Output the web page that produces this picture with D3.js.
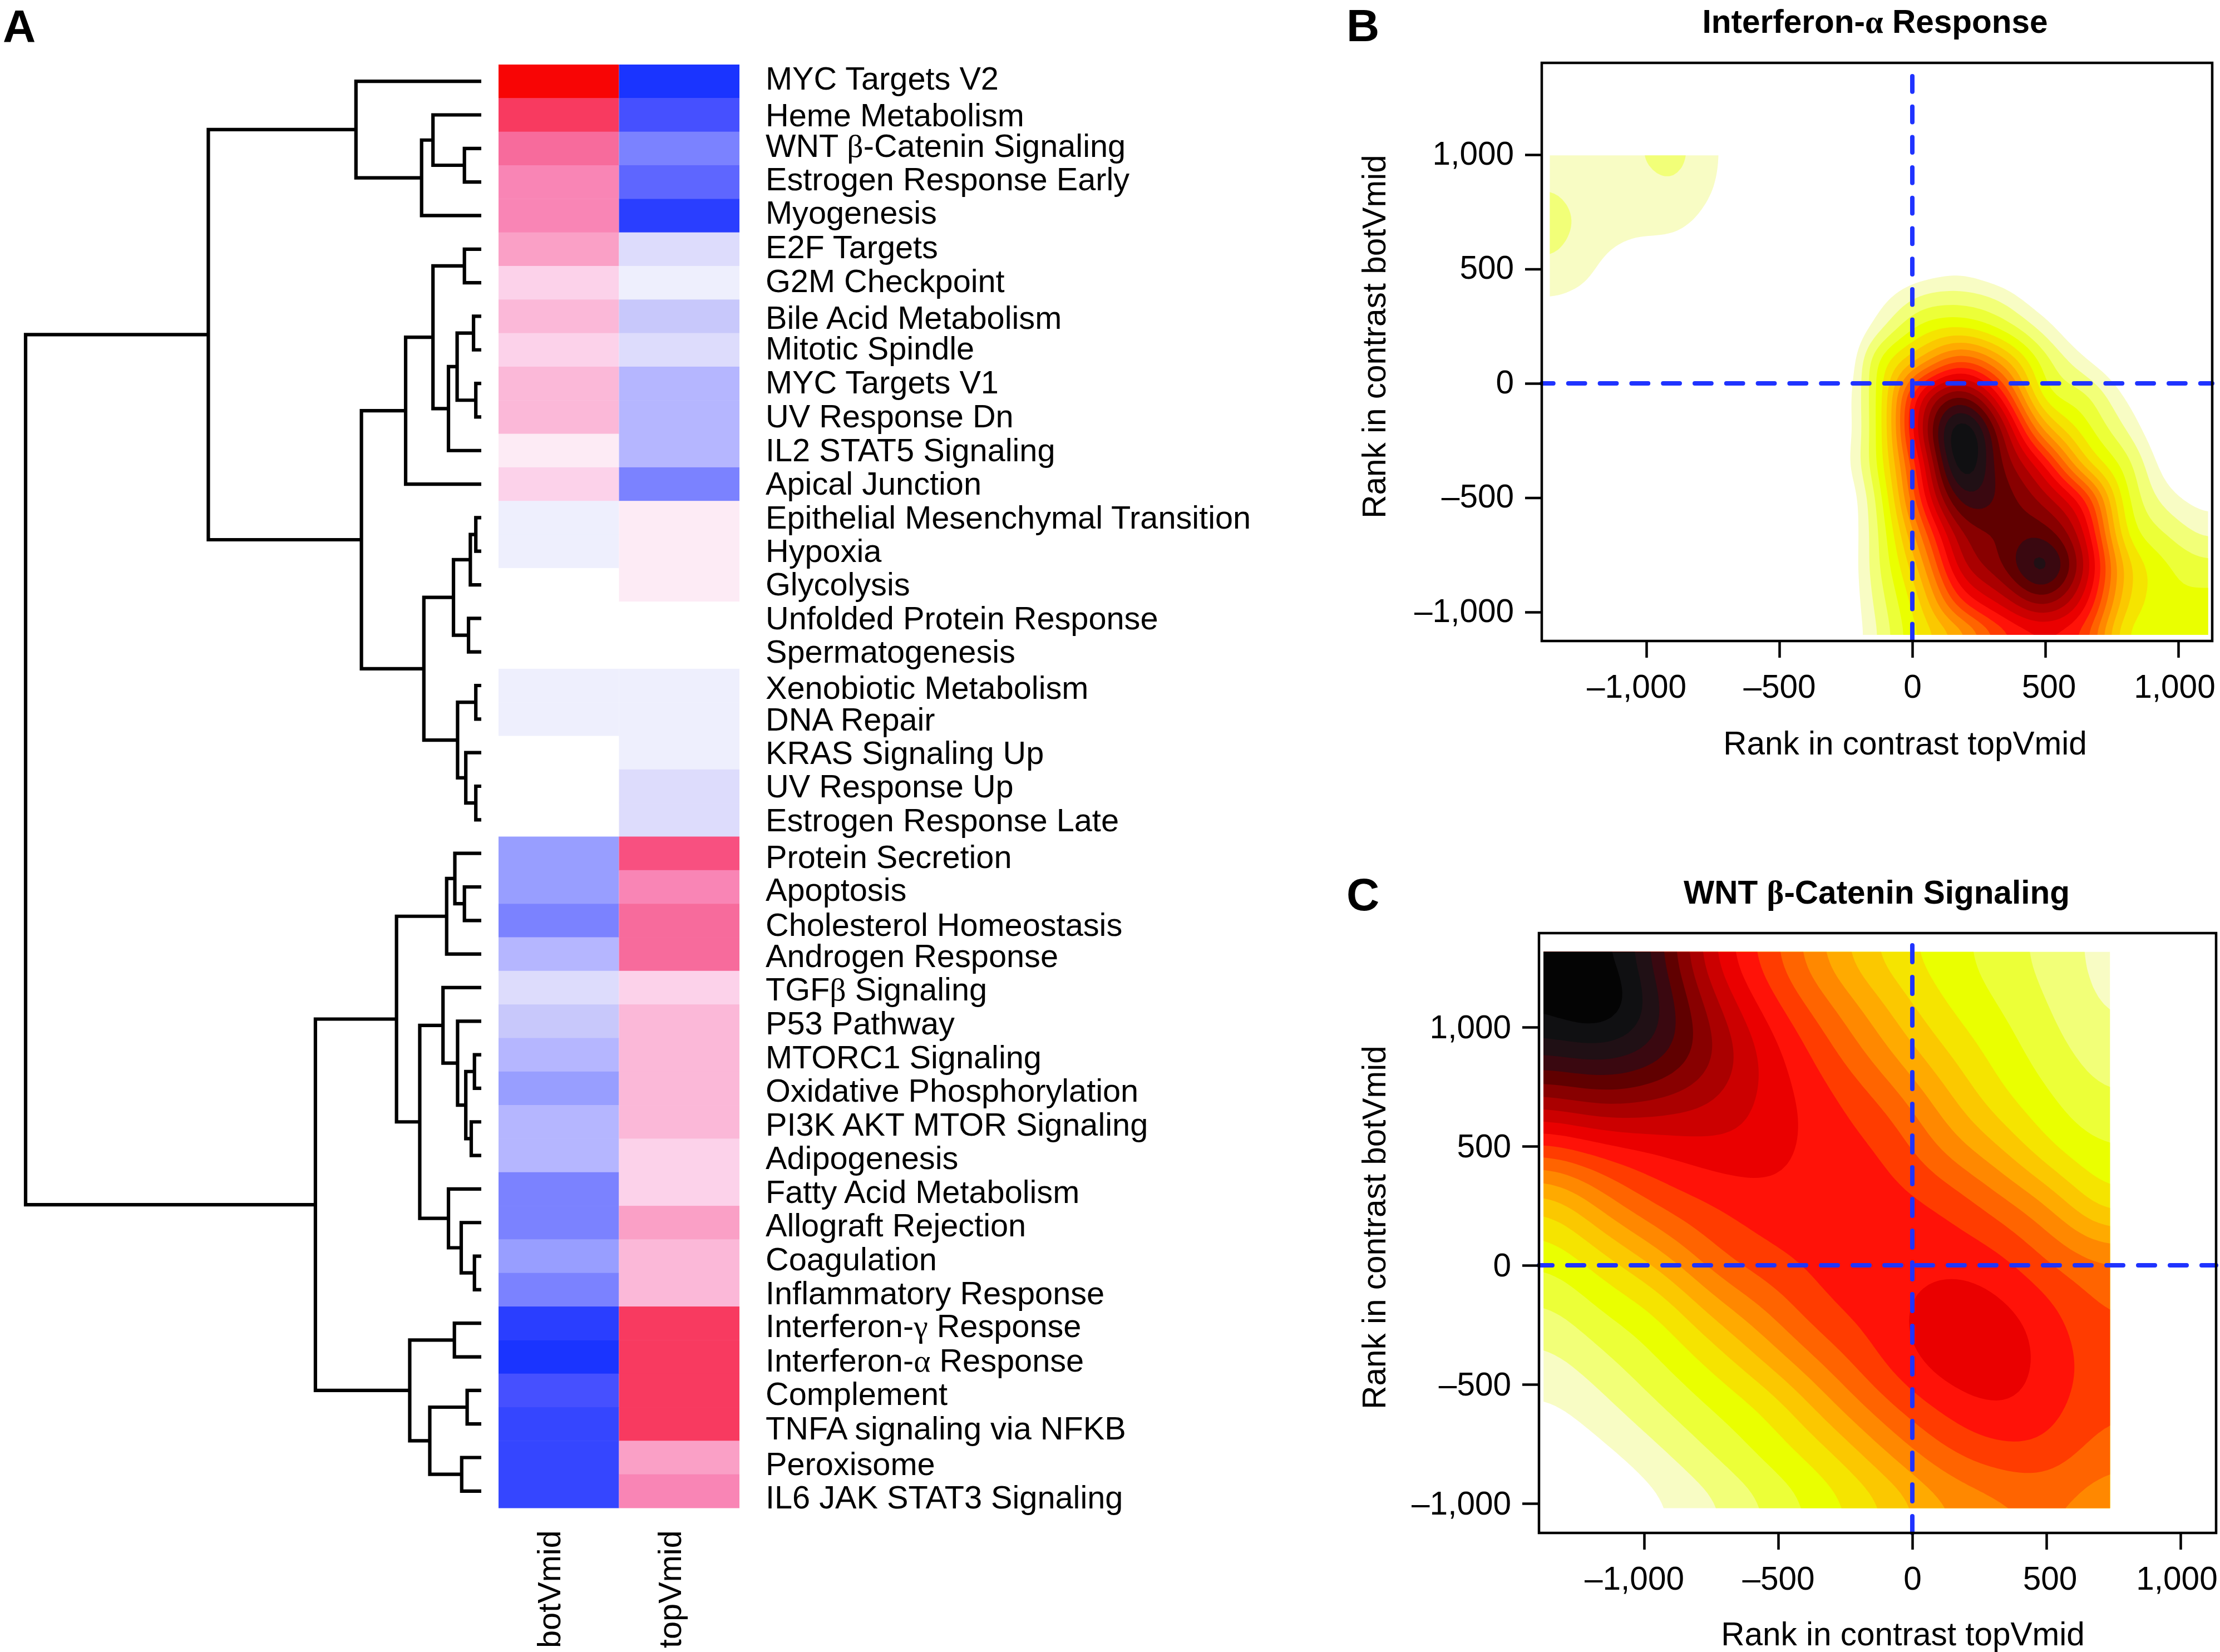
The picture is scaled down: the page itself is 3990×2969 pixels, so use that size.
<!DOCTYPE html>
<html><head><meta charset="utf-8">
<script src="https://cdn.jsdelivr.net/npm/d3@7/dist/d3.min.js"></script>
<style>html,body{margin:0;background:#fff}svg{display:block}text{font-family:"Liberation Sans",Arial,sans-serif;fill:#000}</style>
</head><body><svg id="c" width="3990" height="2969"></svg>
<script>
// ---------- DATA ----------
const pathways = ["MYC Targets V2","Heme Metabolism","WNT β-Catenin Signaling","Estrogen Response Early","Myogenesis","E2F Targets","G2M Checkpoint","Bile Acid Metabolism","Mitotic Spindle","MYC Targets V1","UV Response Dn","IL2 STAT5 Signaling","Apical Junction","Epithelial Mesenchymal Transition","Hypoxia","Glycolysis","Unfolded Protein Response","Spermatogenesis","Xenobiotic Metabolism","DNA Repair","KRAS Signaling Up","UV Response Up","Estrogen Response Late","Protein Secretion","Apoptosis","Cholesterol Homeostasis","Androgen Response","TGFβ Signaling","P53 Pathway","MTORC1 Signaling","Oxidative Phosphorylation","PI3K AKT MTOR Signaling","Adipogenesis","Fatty Acid Metabolism","Allograft Rejection","Coagulation","Inflammatory Response","Interferon-γ Response","Interferon-α Response","Complement","TNFA signaling via NFKB","Peroxisome","IL6 JAK STAT3 Signaling"];
const contrasts = ["botVmid","topVmid"];
const botVmid = [10,9,7,6,6,5,3,4,3,4,4,2,3,-1,-1,0,0,0,-1,-1,0,0,0,-5,-5,-6,-4,-2,-3,-4,-5,-4,-4,-6,-6,-5,-6,-10,-11,-8,-9,-9,-9];
const topVmid = [-11,-8,-6,-7,-10,-2,-1,-3,-2,-4,-4,-4,-6,2,2,2,0,0,-1,-1,-1,-2,-2,8,6,7,7,3,4,4,4,4,3,3,5,4,4,9,9,9,9,5,6];
const heatLevels = [-11,-10,-9,-8,-7,-6,-5,-4,-3,-2,-1,0,2,3,4,5,6,7,8,9,10];
const heatColors = ["#1a34ff","#2a3eff","#3546ff","#4650ff","#5e66ff","#7b82ff","#989eff","#b5b6ff","#c8c8fb","#dddcfc","#eeeffd","#ffffff","#fdebf5","#fcd2ea","#fbb8d8","#faa0c6","#f985b5","#f76b9c","#f85080","#f83a60","#f80505"];
// dendrogram: [height, childA, childB]; a child is a row number or another node
const dendrogram = [100,
 [59.9,
  [27.5,0,[13.1,[10.6,1,[3.7,2,3]],4]],
  [26.3,
   [16.6,[10.6,[3.7,5,6],[7.2,[5.3,[1.7,7,8],[1.2,9,10]],11]],12],
   [12.6,
    [6.1,[2.4,[1.2,13,14],15],[2.8,16,17]],
    [5.2,[1.2,18,19],[3.4,20,[1.2,21,22]]]]]],
 [36.4,
  [18.6,
   [7.6,[5.8,23,[3.7,24,25]],26],
   [13.5,
    [8.4,27,[5.2,28,[3.4,[1.5,29,30],[2.2,31,32]]]],
    [7.2,33,[4.4,34,[1.5,35,36]]]]],
  [15.7,
   [5.9,37,38],
   [11.3,[3.1,39,40],[4.3,41,42]]]]];

const rampLevels = d3.range(1,21);
const rampColors = ["#f8fcc4","#f2ff78","#ecff38","#eaff00","#f5e400","#fbc800","#ffaa00","#ff8800","#ff6400","#ff3c00","#ff1208","#ea0000","#cc0000","#aa0000","#880000","#600000","#3a0810","#201015","#101012","#040404"];

const xTicks = [-1000,-500,0,500,1000];
const yTicks = [-1000,-500,0,500,1000];
const xTitle = "Rank in contrast topVmid";
const yTitle = "Rank in contrast botVmid";

const alphaXExtent = [-1363,1112], alphaYExtent = [997,-1100];
const alphaDensity = [
[1.6,1.4,1.8,2.4,1.05,.5,.1,-1,-1,-2,-2,-2,-2,-2,-2,-2,-2],
[2.0,1.5,1.5,1.8,.95,.3,0,-1,-1,-2,-2,-2,-2,-2,-2,-2,-2],
[2.6,1.5,1.2,1.2,.6,.1,0,-1,-1,-1.5,-1,-2,-2,-2,-2,-2,-2],
[2.0,1.15,.7,.5,.2,0,0,-1,-1,-.5,.1,-1,-2,-2,-2,-2,-2],
[1.1,.8,.3,.1,0,0,0,-.8,.3,1.8,2.1,1.4,-.3,-1,-2,-2,-2],
[.5,.2,0,0,0,0,-1,-1,1.6,4.2,4.9,3.6,1.5,-.5,-2,-2,-2],
[.1,0,0,0,0,-1,-1,-1,4.1,7.3,10,7.5,3.5,1.2,-.5,-2,-2],
[0,0,0,0,-1,-1,-1,-.2,4.3,12.5,16,11.5,4.6,3.2,.8,-1,-2],
[0,0,0,0,-1,-1,-1,-.2,4.3,13.6,20.1,14.8,7.8,4.5,2,-.5,-2],
[0,0,0,0,-1,-1,-1,0,4.2,12,20,15.9,12,6.5,3.5,.3,-1],
[0,0,0,0,-1,-1,-1,-.5,3.4,11,17.6,16.6,14.5,11,4.3,1.5,.4],
[0,0,0,0,-1,-1,-1,-.5,3,9,15,16.2,16.6,13,5,2.9,1.7],
[0,0,0,0,-1,-1,-1,-.5,2.9,7.3,13.6,15.9,18.6,14,6.5,4.1,3.3],
[0,0,0,0,-1,-1,-1,-.5,2.5,6,11,13.5,15.6,12.6,6.2,4.3,4.3],
[0,0,0,0,-1,-1,-1,-.5,2.1,5.2,7.5,10.5,11.8,10.5,5,4.2,4.3]];

const wntXExtent = [-1375,737], wntYExtent = [1316,-1020];
const wntDensity = [
[19.5,20.5,17.5,12.6,10.3,7.6,5.5,4.5,3.5,2.5,1.5],
[20.3,21.6,18.5,14.2,11.3,9.2,7,5,4,2.9,1.6],
[18.1,18.6,17.7,15.2,12.5,10.4,8.3,6.2,4.6,3.4,2.3],
[14.3,15.3,14.7,13.9,12.6,11.4,10,7.7,5.4,4.1,3],
[10,11.1,11.9,12.6,12.5,11.4,11.2,9,7.5,5,4.1],
[5.8,8.4,10.2,11,11.6,11.5,11.4,11.1,9.5,8,4.8],
[4.2,5.7,7.6,9.9,10.9,11.4,11.5,11.6,11.3,9.6,8.8],
[2.7,4.2,5.1,7.6,9.3,11.1,11.5,12.6,12.3,11.2,9.6],
[1.6,2.8,4,5.4,7.5,9.5,11.2,12.7,12.9,11.5,10.3],
[.7,1.6,2.9,4.1,5.2,7.6,9.7,11.2,12.1,11.4,10],
[0,.6,1.6,3,4.3,5.5,7.7,9.6,10.6,10.6,9.1],
[-.8,-.2,.7,1.6,3,4.4,5.7,7.6,8.4,9,7.9]];

// ---------- LAYOUT + DRAWING ----------
const svg = d3.select("#c");
const FS = 58.5, HFS = 57.7;
const labelBaselinePx = [161,227,282,342,402,464,525,591,646,707,768,829,889,950,1010,1070,1131,1191,1256,1313,1373,1433,1494,1560,1619,1682,1738,1798,1859,1920,1980,2041,2101,2162,2222,2283,2344,2403,2465,2525,2587,2651,2711];

// Greek letters are set in a serif face, as in the figure
function setLabel(sel,text){
  text.split(/([αβγ])/).filter(s=>s).forEach(s=>{
    const t=sel.append("tspan").text(s);
    if(/[αβγ]/.test(s)) t.attr("font-family","Liberation Serif");
  });
}

// Panel A: heatmap
const heatX = d3.scaleBand().domain(contrasts).range([896,1329]);
const heatY = d3.scaleBand().domain(pathways).range([116,2710]);
const heatColor = d3.scaleOrdinal(heatLevels,heatColors);
[botVmid,topVmid].forEach((vals,ci)=>{
  svg.append("g").selectAll("rect").data(vals).join("rect")
    .attr("x",heatX(contrasts[ci])).attr("width",heatX.bandwidth())
    .attr("y",(d,i)=>heatY(pathways[i])).attr("height",heatY.bandwidth()+.5)
    .attr("fill",d=>heatColor(d));
});
svg.append("g").selectAll("text").data(pathways).join("text")
  .attr("x",1376).attr("y",(d,i)=>labelBaselinePx[i]).attr("font-size",HFS)
  .each(function(d){setLabel(d3.select(this),d);});
svg.append("g").selectAll("text").data(contrasts).join("text")
  .attr("transform",d=>`translate(${heatX(d)+heatX.bandwidth()/2-18},2962) rotate(-90)`)
  .attr("dy","0.36em").attr("font-size",HFS).text(d=>d);

// Panel A: dendrogram
const dX = d3.scaleLinear().domain([0,100]).range([865,46]);
const segs = [];
function walk(n){
  if(typeof n==="number") return {h:0,y:heatY(pathways[n])+heatY.bandwidth()/2};
  const a=walk(n[1]), b=walk(n[2]);
  segs.push([[a.h,a.y],[n[0],a.y],[n[0],b.y],[b.h,b.y]]);
  return {h:n[0],y:(a.y+b.y)/2};
}
walk(dendrogram);
const dLine = d3.line().x(p=>dX(p[0])).y(p=>p[1]);
svg.append("g").selectAll("path").data(segs).join("path")
  .attr("d",dLine).attr("fill","none").attr("stroke","#000").attr("stroke-width",6.2);

// Bicubic refinement of a read-off grid so that band edges are smooth
function refine(grid,k,blur){
  const R=grid.length,C=grid[0].length,W=(C-1)*k+1,H=(R-1)*k+1,out=new Float64Array(W*H);
  const cr=(a,b,c,d,t)=>0.5*(2*b+(c-a)*t+(2*a-5*b+4*c-d)*t*t+(3*b-a-3*c+d)*t*t*t);
  const g=(r,c)=>grid[Math.max(0,Math.min(R-1,r))][Math.max(0,Math.min(C-1,c))];
  for(let j=0;j<H;j++){const r=Math.floor(j/k),tr=j/k-r;
    for(let i=0;i<W;i++){const c=Math.floor(i/k),tc=i/k-c;
      const row=q=>cr(g(q,c-1),g(q,c),g(q,c+1),g(q,c+2),tc);
      out[j*W+i]=cr(row(r-1),row(r),row(r+1),row(r+2),tr);
    }}
  if(blur&&d3.blur2) d3.blur2({data:out,width:W,height:H},blur);
  return {values:Array.from(out),W,H};
}

function panel(cfg){
  const g=svg.append("g");
  const x=d3.scaleLinear().domain([0,1000]).range(cfg.xZeroPx);
  const y=d3.scaleLinear().domain([0,1000]).range(cfg.yZeroPx);
  const [L,R]=cfg.xPx,[T,B]=cfg.yPx;
  const f=refine(cfg.grid,10,cfg.blur);
  const px=d3.scaleLinear().domain([.5,f.W-.5]).range(cfg.xExt.map(x)).clamp(true);
  const py=d3.scaleLinear().domain([.5,f.H-.5]).range(cfg.yExt.map(y)).clamp(true);
  const path=d3.geoPath(d3.geoTransform({point(a,b){this.stream.point(px(a),py(b));}}));
  const bands=d3.contours().size([f.W,f.H]).thresholds(rampLevels)(f.values);
  g.append("g").selectAll("path").data(bands).join("path")
    .attr("d",path).attr("fill",(d,i)=>rampColors[i]);
  // reference lines
  const dash=d3.line().x(p=>x(p[0])).y(p=>y(p[1]));
  const ref=p=>g.append("path").attr("d",dash(p)).attr("stroke","#1f33ff").attr("stroke-width",8)
    .attr("stroke-linecap","round").attr("fill","none");
  ref([[x.invert(L),0],[x.invert(R),0]]).attr("stroke-dasharray",`${cfg.hDash-27} 27`).attr("stroke-dashoffset",cfg.hOff);
  ref([[0,y.invert(cfg.vTop)],[0,y.invert(B)]]).attr("stroke-dasharray",`${cfg.vDash-27} 27`);
  g.append("rect").attr("x",L).attr("y",T).attr("width",R-L).attr("height",B-T)
    .attr("fill","none").attr("stroke","#000").attr("stroke-width",4.5);
  const fmt=d=>d3.format(",")(d).replace("−","–");
  const xa=g.append("g").attr("transform",`translate(0,${B})`)
    .call(d3.axisBottom(x).tickValues(xTicks).tickSize(30).tickPadding(0).tickFormat(fmt));
  const ya=g.append("g").attr("transform",`translate(${L},0)`)
    .call(d3.axisLeft(y).tickValues(yTicks).tickSize(30).tickPadding(20).tickFormat(fmt));
  [xa,ya].forEach(a=>{a.select(".domain").remove();
    a.selectAll("line").attr("stroke","#000").attr("stroke-width",4.5);
    a.selectAll("text").attr("font-size",FS).attr("font-family",null).attr("fill","#000");});
  xa.selectAll("text").attr("dy",null).attr("y",cfg.xTickY-B).attr("dominant-baseline","central")
    .attr("dx",d=>d===-1000?-18:d===1000?-7:d===500?6:0);
  ya.selectAll("text").attr("dy","0.36em").attr("y",cfg.yTickNudge);
  g.append("text").attr("x",cfg.xTitle[0]).attr("y",cfg.xTitle[1]).attr("dy","0.36em").attr("text-anchor","middle").attr("font-size",FS).text(xTitle);
  g.append("text").attr("transform",`translate(${cfg.yTitle[0]},${cfg.yTitle[1]}) rotate(-90)`).attr("dy","0.36em").attr("text-anchor","middle").attr("font-size",FS).text(yTitle);
  const tt=g.append("text").attr("x",cfg.title[0]).attr("y",cfg.title[1]).attr("dy","0.36em").attr("text-anchor","middle").attr("font-size",FS).attr("font-weight","bold");
  setLabel(tt,cfg.name);
}
panel({name:"Interferon-α Response",grid:alphaDensity,xExt:alphaXExtent,yExt:alphaYExtent,blur:2,
  xZeroPx:[3437,3915],yZeroPx:[689,278],xPx:[2771,3976],yPx:[113,1152],vTop:137,hDash:56.8,hOff:9,vDash:54.7,yTickNudge:-4,
  xTickY:1233,xTitle:[3424,1335],yTitle:[2469,605],title:[3370,38]});
panel({name:"WNT β-Catenin Signaling",grid:wntDensity,xExt:wntXExtent,yExt:wntYExtent,blur:4,
  xZeroPx:[3437,3919],yZeroPx:[2274,1846],xPx:[2766,3983],yPx:[1677,2755],vTop:1699,hDash:57,hOff:6,vDash:57,yTickNudge:-2,
  xTickY:2836,xTitle:[3420,2936],yTitle:[2469,2206],title:[3373,1603]});

// Panel letters
[["A",5,45],["B",2420,44],["C",2420,1606]].forEach(([t,a,b])=>{
  svg.append("text").attr("x",a).attr("y",b).attr("dy","0.36em").attr("font-size",82).attr("font-weight","bold").text(t);
});
</script></body></html>
